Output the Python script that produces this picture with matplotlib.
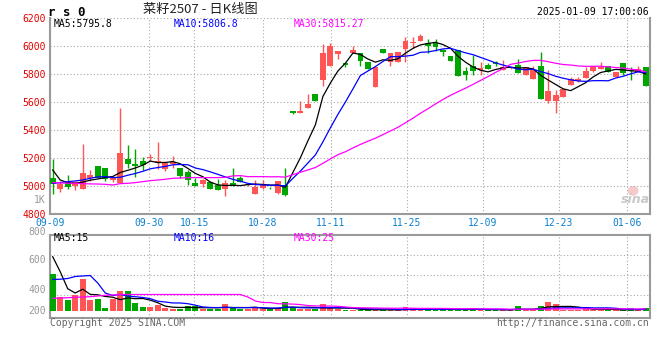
import numpy as np
import pandas as pd
import matplotlib
matplotlib.use("Agg")
import matplotlib.pyplot as plt
from matplotlib.patches import Ellipse

# ---------------- data ----------------
open_ = [5055, 4981, 5031, 5000, 4981, 5055, 5143, 5129, 5040, 5024,
         5193, 5157, 5181, 5200, 5162, 5121, 5157, 5126, 5098, 5024,
         5014, 5026, 5007, 4981, 5024, 5055, 5007, 4945, 4983, 4988,
         4952, 5007, 5536, 5519, 5560, 5655, 5757, 5860, 5940, 5881,
         5952, 5948, 5886, 5710, 5976, 5888, 5888, 5976, 6024, 6038,
         6019, 6019, 5971, 5929, 5971, 5821, 5857, 5829, 5864, 5883,
         5829, 5840, 5864, 5793, 5767, 5857, 5610, 5610, 5633, 5724,
         5752, 5774, 5821, 5833, 5857, 5781, 5876, 5829, 5817, 5848]
high = [5193, 5036, 5079, 5038, 5300, 5114, 5143, 5129, 5067, 5560,
        5293, 5262, 5207, 5231, 5312, 5170, 5214, 5130, 5114, 5060,
        5050, 5036, 5050, 5040, 5131, 5074, 5019, 5043, 5043, 4990,
        5036, 5126, 5536, 5607, 5657, 5655, 6012, 6024, 5964, 5881,
        6000, 5948, 5886, 5852, 5976, 5948, 5955, 6067, 6067, 6086,
        6048, 6048, 5976, 5929, 5971, 5852, 5936, 5888, 5876, 5895,
        5900, 5852, 5907, 5848, 5857, 5957, 5829, 5686, 5693, 5781,
        5781, 5852, 5857, 5886, 5857, 5817, 5876, 5852, 5857, 5848]
low = [4945, 4960, 4979, 4971, 4981, 5036, 5055, 5036, 5031, 5024,
       5131, 5067, 5114, 5179, 5121, 5110, 5131, 5055, 5007, 5000,
       4995, 4979, 4974, 4931, 5002, 5026, 5002, 4945, 4976, 4981,
       4945, 4931, 5512, 5519, 5560, 5610, 5717, 5860, 5905, 5848,
       5948, 5857, 5838, 5710, 5948, 5857, 5888, 5888, 5983, 6038,
       5952, 5967, 5931, 5895, 5786, 5757, 5793, 5793, 5836, 5857,
       5829, 5836, 5810, 5793, 5767, 5621, 5590, 5524, 5633, 5724,
       5745, 5774, 5817, 5833, 5817, 5781, 5793, 5757, 5817, 5717]
close = [5012, 5017, 4995, 5026, 5090, 5079, 5060, 5050, 5060, 5233,
         5157, 5143, 5150, 5207, 5179, 5162, 5174, 5071, 5043, 5000,
         5043, 4981, 4974, 5021, 5007, 5031, 5017, 4993, 5007, 4983,
         5036, 4936, 5519, 5536, 5586, 5610, 5948, 6000, 5964, 5867,
         5971, 5895, 5838, 5852, 5952, 5948, 5955, 6036, 6026, 6074,
         6000, 5995, 5955, 5895, 5786, 5790, 5824, 5840, 5836, 5871,
         5848, 5848, 5810, 5848, 5829, 5621, 5679, 5650, 5693, 5762,
         5762, 5821, 5857, 5852, 5817, 5817, 5805, 5824, 5836, 5717]
volume = [370, 137, 110, 157, 317, 110, 117, 27, 117, 197,
          197, 77, 37, 37, 63, 30, 23, 23, 47, 47,
          23, 23, 23, 67, 37, 23, 23, 37, 23, 17,
          27, 87, 37, 17, 20, 17, 67, 30, 17, 13,
          13, 13, 13, 10, 13, 10, 10, 37, 27, 10,
          27, 10, 10, 27, 10, 10, 27, 13, 10, 10,
          10, 10, 47, 10, 10, 47, 90, 67, 13, 13,
          13, 37, 13, 10, 10, 10, 10, 27, 10, 27]

# moving-average values before enough history is visible
ma5_head = [5114, 5043, 5024, 5019]
ma10_head = [5019, 5024, 5031, 5036, 5043, 5055, 5065, 5067, 5060]
ma30_head = [5024, 5022, 5020, 5019, 5017, 5015, 5014, 5012, 5007, 5017,
             5019, 5024, 5031, 5038, 5043, 5048, 5055, 5057, 5060, 5060,
             5060, 5060, 5060, 5062, 5072, 5074, 5067, 5067, 5067]
vma5_head = [543, 393, 223, 180]
vma10_head = [315, 318, 325, 345, 350, 355, 280, 180, 155]
vma30_head = [127, 130, 133, 137, 140, 143, 150, 157, 160, 165,
              165, 165, 165, 165, 165, 165, 165, 165, 165, 165,
              165, 165, 165, 165, 165, 165, 140, 100, 85]

date_idx = [0, 13, 19, 28, 37, 47, 57, 67, 76]
date_lbl = ['09-09', '09-30', '10-15', '10-28', '11-11',
            '11-25', '12-09', '12-23', '01-06']
price_ticks = [4800, 5000, 5200, 5400, 5600, 5800, 6000, 6200]

title = "菜籽2507 - 日K线图"
stamp = "2025-01-09 17:00:06"
ma_text = ["MA5:5795.8", "MA10:5806.8", "MA30:5815.27"]
vma_text = ["MA5:15", "MA10:16", "MA30:25"]


def with_head(values, n, head):
    s = pd.Series(values, dtype=float).rolling(n).mean().to_numpy()
    s[:len(head)] = head
    return s


o = np.array(open_, float); h = np.array(high, float)
l = np.array(low, float); c = np.array(close, float)
v = np.array(volume, float)
x = np.arange(len(c))
ma5 = with_head(c, 5, ma5_head)
ma10 = with_head(c, 10, ma10_head)
ma30 = with_head(c, 30, ma30_head)
vma5 = with_head(v, 5, vma5_head)
vma10 = with_head(v, 10, vma10_head)
vma30 = with_head(v, 30, vma30_head)

# ---------------- style ----------------
RED = '#ff5555'
GREEN = '#00a600'
GRID = '#a8a8a8'
BORDER = '#9a9a9a'
MONO = 'DejaVu Sans Mono'
W, H = 660, 360

fig = plt.figure(figsize=(6.6, 3.6), dpi=100)
fig.patch.set_facecolor('white')


def fx(px):
    return px / W


def fy(py):
    return 1 - py / H


# candle x: first at 52.7px, 7.506px apart; axes spans 50..650px
step = 7.506
xl = ((50 - 52.7) / step, (650 - 52.7) / step)
# Sina's date gridlines use a slightly different spacing (600/79 px)
grid_x = [(50 + i * 600 / 79 - 52.7) / step for i in date_idx]

ax = fig.add_axes([fx(50), fy(214), fx(600), (214 - 18) / H])
axv = fig.add_axes([fx(50), fy(317.7), fx(600), (317.7 - 234.7) / H])

up = c >= o
cols = np.where(up, RED, GREEN)
bw = 0.78

# main panel
ax.vlines(x, l, h, colors=cols, linewidth=1.0, zorder=2)
body_h = np.maximum(np.abs(c - o), 6)
ax.bar(x, body_h, bottom=np.minimum(o, c), width=bw, color=cols,
       linewidth=0, zorder=3)
ax.plot(x, ma5, color='black', lw=0.9, zorder=4)
ax.plot(x, ma10, color='#0000ff', lw=0.9, zorder=4)
ax.plot(x, ma30, color='#ff00ff', lw=0.9, zorder=4)
ax.set_xlim(*xl)
ax.set_ylim(4800, 6200)
ax.set_yticks(price_ticks)
ax.set_yticklabels([str(t) for t in price_ticks])
ax.set_xticks(grid_x)
ax.set_xticklabels(date_lbl)
ax.tick_params(axis='y', length=0, pad=3.2, labelsize=7, labelcolor='#e00000')
ax.tick_params(axis='x', length=0, pad=2.8, labelsize=7, labelcolor='#0a80d0')
for t in ax.get_xticklabels() + ax.get_yticklabels():
    t.set_fontfamily(MONO)
ax.grid(True, color=GRID, linestyle=(0, (1, 2)), linewidth=0.8, zorder=0)
for side in ['left', 'right', 'bottom']:
    ax.spines[side].set_color(BORDER)
    ax.spines[side].set_linewidth(1.5)
ax.spines['top'].set_visible(False)

# faint sina watermark (logo eye + word)
ax.add_patch(Ellipse((0.972, 0.118), 0.018, 0.05, transform=ax.transAxes,
                     facecolor='#f6caca', edgecolor='none', zorder=1))
ax.text(0.975, 0.075, "sina", transform=ax.transAxes, fontsize=9,
        fontweight='bold', style='italic', va='center', ha='center',
        color='#c8c8c8', zorder=1)

# volume panel
axv.bar(x, v, width=bw, color=cols, linewidth=0, zorder=3)
axv.plot(x, vma5, color='black', lw=0.9, zorder=4)
axv.plot(x, vma10, color='#0000ff', lw=0.9, zorder=4)
axv.plot(x, vma30, color='#ff00ff', lw=0.9, zorder=4)
axv.set_xlim(*xl)
axv.set_ylim(-67, 763)
axv.set_yticks([160, 360, 560])
axv.set_xticks(grid_x)
axv.tick_params(length=0, labelleft=False, labelbottom=False)
axv.grid(True, color=GRID, linestyle=(0, (1, 2)), linewidth=0.8, zorder=0)
for side in axv.spines:
    axv.spines[side].set_color(BORDER)
    axv.spines[side].set_linewidth(1.5)

# ---------------- texts ----------------
fig.text(fx(48), fy(12), "r s 0", fontsize=9, fontweight='bold',
         family=MONO, va='center', ha='left', color='black')
fig.text(fx(200), fy(9.5), title, fontsize=9.5,
         family=['Noto Sans CJK SC', 'DejaVu Sans'], va='center', ha='center',
         color='#222222')
fig.text(fx(649), fy(11.7), stamp, fontsize=7, family=MONO, va='center',
         ha='right', color='black')

for txt, px, col in zip(ma_text, [54, 174, 294], ['black', '#0000ff', '#ff00ff']):
    fig.text(fx(px), fy(24), txt, fontsize=7, family=MONO, va='center',
             ha='left', color=col)
for txt, px, col in zip(vma_text, [54, 174, 294], ['black', '#0000ff', '#ff00ff']):
    fig.text(fx(px), fy(238.3), txt, fontsize=7, family=MONO, va='center',
             ha='left', color=col)

for txt, py in [("1K", 200), ("800", 231.5), ("600", 260), ("400", 290), ("200", 310.7)]:
    fig.text(fx(45.7), fy(py), txt, fontsize=7, family=MONO, va='center',
             ha='right', color='#999999')

fig.text(fx(50), fy(323.3), "Copyright 2025 SINA.COM", fontsize=7, family=MONO,
         va='center', ha='left', color='#666666')
fig.text(fx(649), fy(323.3), "http://finance.sina.com.cn", fontsize=7,
         family=MONO, va='center', ha='right', color='#666666')

fig.savefig("out.png", dpi=100, facecolor='white')
